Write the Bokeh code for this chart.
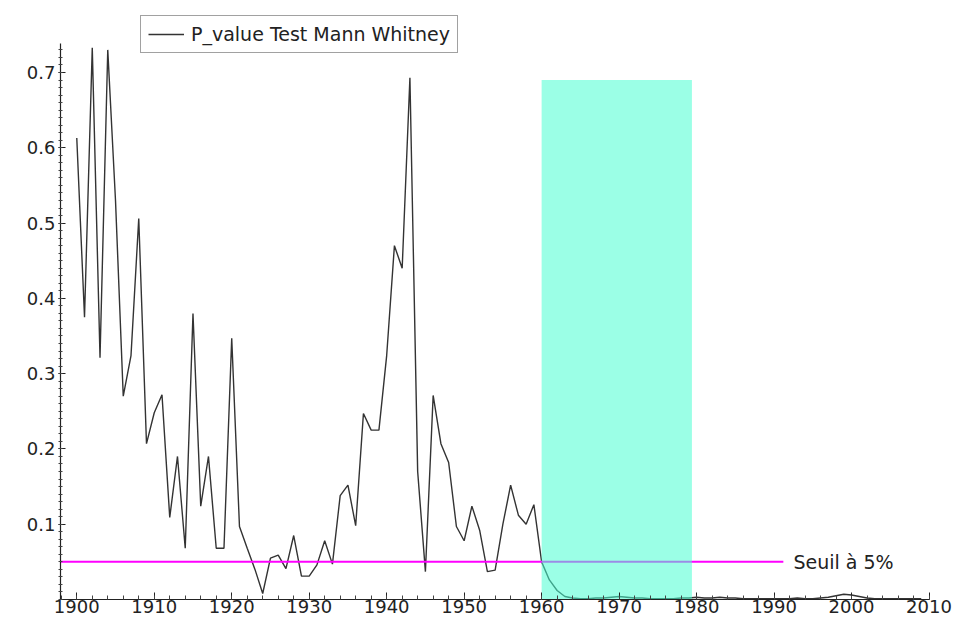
from bokeh.plotting import figure
from bokeh.models import Range1d, FixedTicker, SingleIntervalTicker
from bokeh.core.properties import value
from bokeh.embed import file_html
from bokeh.resources import INLINE

# ---------------- data ----------------
years = list(range(1900, 2010))
p_values = [
    0.613, 0.375, 0.733, 0.321, 0.730, 0.530, 0.270, 0.324, 0.506, 0.207,  # 1900s
    0.248, 0.272, 0.109, 0.190, 0.068, 0.380, 0.124, 0.190, 0.068, 0.068,  # 1910s
    0.347, 0.097, 0.068, 0.040, 0.008, 0.055, 0.059, 0.041, 0.085, 0.031,  # 1920s
    0.031, 0.046, 0.078, 0.047, 0.138, 0.152, 0.098, 0.247, 0.225, 0.225,  # 1930s
    0.324, 0.470, 0.440, 0.693, 0.170, 0.037, 0.271, 0.207, 0.182, 0.097,  # 1940s
    0.078, 0.124, 0.092, 0.037, 0.039, 0.100, 0.152, 0.112, 0.100, 0.126,  # 1950s
    0.050, 0.026, 0.012, 0.004, 0.002, 0.001, 0.001, 0.002, 0.002, 0.003,  # 1960s
    0.004, 0.003, 0.002, 0.002, 0.001, 0.001, 0.001, 0.001, 0.002, 0.002,  # 1970s
    0.003, 0.002, 0.002, 0.003, 0.002, 0.002, 0.001, 0.001, 0.001, 0.001,  # 1980s
    0.001, 0.001, 0.001, 0.002, 0.001, 0.001, 0.002, 0.003, 0.005, 0.007,  # 1990s
    0.006, 0.004, 0.002, 0.001, 0.001, 0.001, 0.001, 0.001, 0.001, 0.001,  # 2000s
]
series_label = "P_value Test Mann Whitney"

seuil = 0.05
seuil_start_year = 1897.9
seuil_end_year = 1991.2
seuil_label = "Seuil à 5%"
seuil_label_year = 1992.5

highlight_start = 1960
highlight_end = 1979.4
highlight_top = 0.69

y_tick_values = [0.1, 0.2, 0.3, 0.4, 0.5, 0.6, 0.7]
y_minor_values = [round(i * 0.01, 2) for i in range(0, 74)]

# ---------------- figure ----------------
FONT = "DejaVu Sans"
p = figure(width=952, height=620, output_backend="svg", toolbar_location=None,
           x_range=Range1d(1897.9, 2012), y_range=Range1d(0, 0.7757),
           min_border_left=60, min_border_right=8, min_border_top=15, min_border_bottom=21)
p.outline_line_color = None
p.xgrid.visible = False
p.ygrid.visible = False
p.background_fill_color = "white"

# series
p.line(years, p_values, line_color="#333333", line_width=1.4, legend_label=series_label)

# threshold
p.segment(x0=[seuil_start_year], y0=[seuil], x1=[seuil_end_year], y1=[seuil],
          line_color="#ff00ff", line_width=2)
p.text(x=[seuil_label_year], y=[seuil], text=[seuil_label], text_baseline="middle",
       text_align="left", text_font=value(FONT), text_font_size="19px", text_color="#222222")

# highlight box (semi-transparent, above the lines)
p.quad(left=[highlight_start], right=[highlight_end], bottom=[0], top=[highlight_top],
       fill_color="#49ffd2", fill_alpha=0.55, line_color=None)

# axes
xa = p.xaxis[0]
xa.ticker = SingleIntervalTicker(interval=10, num_minor_ticks=5)
xa.bounds = (1897.9, 2010)
ya = p.yaxis[0]
ya.ticker = FixedTicker(ticks=y_tick_values, minor_ticks=y_minor_values)
ya.bounds = (0, 0.738)
for ax in (xa, ya):
    ax.axis_line_color = "#222222"
    ax.axis_line_width = 1.2
    ax.major_tick_line_color = "#222222"
    ax.minor_tick_line_color = "#444444"
    ax.major_label_text_font = FONT
    ax.major_label_text_font_size = "18px"
    ax.major_label_text_color = "#222222"
xa.major_tick_in = 7
xa.major_tick_out = 0
xa.minor_tick_in = 4
xa.minor_tick_out = 0
xa.major_label_standoff = 0
ya.major_tick_in = 5
ya.major_tick_out = 2
ya.minor_tick_in = 2
ya.minor_tick_out = 2
ya.major_label_standoff = 3

# legend
lg = p.legend[0]
lg.location = (80, 546)
lg.padding = 7
lg.margin = 0
lg.spacing = 0
lg.glyph_width = 36
lg.glyph_height = 20
lg.label_height = 20
lg.label_standoff = 7
lg.label_text_font = FONT
lg.label_text_font_size = "19px"
lg.label_text_color = "#222222"
lg.border_line_color = "#444444"
lg.border_line_width = 1
lg.background_fill_color = "white"
lg.background_fill_alpha = 1

open("out.html", "w").write(file_html(p, INLINE))
